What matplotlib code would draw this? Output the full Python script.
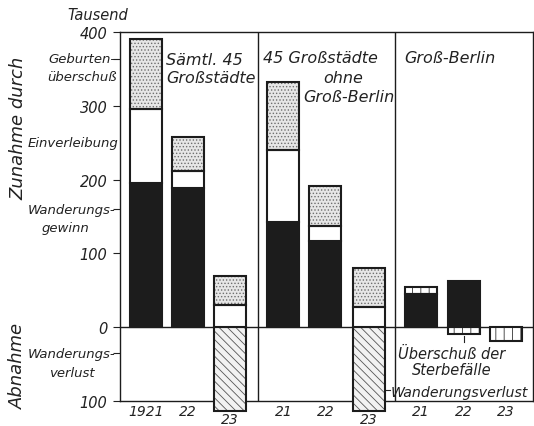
import matplotlib
matplotlib.use("Agg")
from matplotlib import pyplot as plt
import numpy as np

plt.rcParams['font.family'] = ['DejaVu Sans']
plt.rcParams['font.style'] = 'italic'
plt.rcParams['hatch.linewidth'] = 0.6

# values in thousands
years = ['1921', '22', '23', '21', '22', '23', '21', '22', '23']
wanderung = [195, 189, -113, 142, 117, -113, 45, 63, 0]
einverleibung = [100, 22, 30, 98, 20, 27, 0, 0, 0]
geburten = [95, 47, 40, 92, 55, 53, 9, -9, -19]

xpos = np.array([0.62, 1.62, 2.62, 3.89, 4.89, 5.92, 7.17, 8.18, 9.18])
width = 0.76
ink = '#1c1c1c'
txt = '#222222'

fig = plt.figure(figsize=(5.34, 4.27), dpi=100)
ax = fig.add_axes([120/534, 25/427, 413/534, 369/427])
ax.set_xlim(0, 9.83)
ax.set_ylim(-100, 400)

def draw_bar(x, h, b, face, pat=None, patcol='#666666'):
    if pat:
        ax.bar(x, h, width, bottom=b, facecolor=face, edgecolor=patcol, hatch=pat,
               linewidth=0, clip_on=False, zorder=3)
        face = 'none'
    ax.bar(x, h, width, bottom=b, facecolor=face, edgecolor=ink, linewidth=1.5,
           clip_on=False, zorder=4)

pos_base = np.zeros(len(xpos))
neg_base = np.zeros(len(xpos))

# wanderung: black if positive, hatched if negative
for i, v in enumerate(wanderung):
    if v > 0:
        draw_bar(xpos[i], v, 0, ink)
        pos_base[i] += v
    elif v < 0:
        draw_bar(xpos[i], v, 0, '#f2f2f2', '\\\\\\\\', '#555555')
        neg_base[i] += v

for series in (einverleibung, geburten):
    for i, v in enumerate(series):
        if v == 0:
            continue
        if v > 0:
            b = pos_base[i]; pos_base[i] += v
        else:
            b = neg_base[i]; neg_base[i] += v
        if series is einverleibung:
            draw_bar(xpos[i], v, b, 'white')
        elif i >= 6:
            draw_bar(xpos[i], v, b, 'white', '||', '#333333')
        else:
            draw_bar(xpos[i], v, b, '#e6e6e6', '.....', '#6e6e6e')

ax.axhline(0, color=ink, lw=1, zorder=2)
for xd in [3.29, 6.55]:
    ax.axvline(xd, color=ink, lw=1, zorder=2)
for s in ax.spines.values():
    s.set_linewidth(1)
    s.set_color(ink)

ax.set_xticks([])
ax.set_yticks([-100, 0, 100, 200, 300, 400])
ax.set_yticklabels(['100', '0', '100', '200', '300', '400'], fontsize=10.5, color=txt)
ax.set_yticks([364, 160, -35], minor=True)
ax.tick_params(axis='y', which='both', direction='out', length=5, width=0.8, pad=4, color=txt)

# year labels
for i, (x, lab) in enumerate(zip(xpos, years)):
    low = wanderung[i] < -100
    ax.text(x, -124 if low else -113, lab, ha='center', va='center', fontsize=10, color=txt)

# left category labels
tr = ax.get_yaxis_transform()
lk = dict(transform=tr, va='center', fontsize=9.5, color=txt)
ax.text(-0.012, 364, 'Geburten-', ha='right', **lk)
ax.text(-0.008, 340, 'überschuß', ha='right', **lk)
ax.text(-0.004, 250, 'Einverleibung', ha='right', **lk)
ax.text(-0.012, 160, 'Wanderungs-', ha='right', **lk)
ax.text(-0.131, 135, 'gewinn', ha='center', **lk)
ax.text(-0.012, -35, 'Wanderungs-', ha='right', **lk)
ax.text(-0.116, -61, 'verlust', ha='center', **lk)
ax.text(0.02, 424, 'Tausend', transform=tr, ha='right', va='center', fontsize=10.5, color=txt)
fig.text(0.034, 0.70, 'Zunahme durch', rotation=90, ha='center', va='center', fontsize=13, color=txt)
fig.text(0.034, 0.143, 'Abnahme', rotation=90, ha='center', va='center', fontsize=13, color=txt)

# group titles
tk = dict(va='center', fontsize=11.5, color=txt)
ax.text(1.095, 363, 'Sämtl. 45', ha='left', **tk)
ax.text(1.095, 339, 'Großstädte', ha='left', **tk)
ax.text(3.40, 366, '45 Großstädte', ha='left', **tk)
ax.text(5.31, 339, 'ohne', ha='center', **tk)
ax.text(4.36, 312, 'Groß-Berlin', ha='left', **tk)
ax.text(6.76, 366, 'Groß-Berlin', ha='left', **tk)

# notes
ax.text(7.9, -46, 'Überschuß der\nSterbefälle', ha='center', va='center', fontsize=10.5,
        color=txt, linespacing=1.1)
ax.plot([8.18, 8.18], [-12, -20], color=txt, lw=0.8)
ax.plot([6.14, 6.43], [-85, -85], color=txt, lw=0.8)
ax.text(6.45, -88, 'Wanderungsverlust', ha='left', va='center', fontsize=10.2, color=txt)

fig.savefig('out.png', dpi=100, facecolor='white')
